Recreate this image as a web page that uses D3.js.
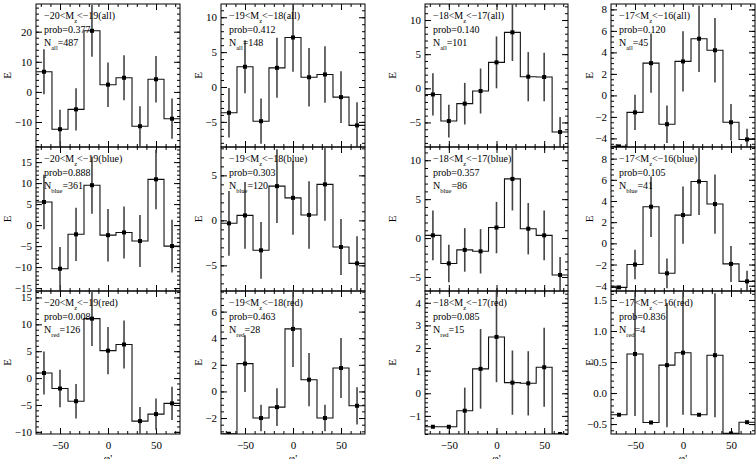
<!DOCTYPE html>
<html lang="en">
<head>
<meta charset="UTF-8">
<title>E vs phi'</title>
<script src="https://d3js.org/d3.v7.min.js"></script>
<style>
  body { margin: 0; background: #fff; }
  text { font-family: "Liberation Serif", "DejaVu Serif", serif; fill: #000; }
  .tick line { stroke: #000; stroke-width: 1; }
</style>
</head>
<body>
<svg width="756" height="459"></svg>
<script>
// bins in phi'
var binCenters = [-66.7, -50, -33.3, -16.7, 0, 16.7, 33.3, 50, 66.7];
var binHalf = 8.33;
var xDomain = [-75, 75];
var xTicks = [-50, 0, 50];

var magLow = [-20, -19, -18, -17];
var magHigh = [-19, -18, -17, -16];

// all galaxies
var allE = [
    [6.7, -12.4, -5.8, 20.3, 2.4, 4.7, -11.4, 4.2, -8.9],
    [-3.7, 2.9, -4.9, 2.75, 7.1, 1.4, 1.8, -1.45, -5.5],
    [-0.9, -4.8, -2.25, -0.4, 3.8, 8.2, 1.7, 1.65, -6.4],
    [-4.74, -1.58, 3.0, -2.68, 3.16, 5.27, 4.2, -2.5, -4.1]
];
var allErr = [
    [7.5, 6.5, 7.0, 8.6, 7.4, 7.5, 6.6, 7.7, 6.7],
    [3.55, 3.8, 3.25, 4.3, 4.9, 4.2, 4.05, 3.7, 3.3],
    [3.1, 2.4, 3.05, 3.3, 3.8, 4.2, 3.6, 3.55, 2.2],
    [0, 1.63, 2.76, 1.74, 2.8, 3.1, 3.0, 1.69, 1.0]
];
var allRange = [[-18.3, 29.2], [-8.6, 11.9], [-8.6, 12.35], [-4.8, 8.5]];
var allTicks = [[-10, 0, 10, 20], [-5, 0, 5, 10], [-5, 0, 5, 10], [-4, -2, 0, 2, 4, 6, 8]];
var allMinor = [2, 1, 1, 0.5];
var allProb = ["0.377", "0.412", "0.140", "0.120"];
var allN = [487, 148, 101, 45];

// blue galaxies
var blueE = [
    [5.5, -10.4, -2.2, 9.5, -2.4, -1.75, -3.8, 10.9, -5.0],
    [-0.33, 0.55, -3.33, 3.8, 2.5, 0.6, 4.0, -2.96, -4.78],
    [0.35, -3.26, -1.52, -1.7, 1.35, 7.6, 1.2, 0.35, -4.74],
    [-4.16, -2.0, 3.46, -2.83, 2.67, 5.84, 3.71, -1.94, -3.59]
];
var blueErr = [
    [6.5, 5.2, 6.35, 6.8, 6.25, 6.2, 6.2, 7.1, 6.3],
    [3.6, 3.7, 3.15, 4.1, 4.1, 3.75, 4.05, 3.1, 3.0],
    [3.2, 2.4, 2.8, 2.85, 3.3, 4.05, 3.3, 3.2, 2.3],
    [0, 1.4, 2.86, 1.4, 2.7, 3.17, 2.8, 1.7, 1.0]
];
var blueRange = [[-15.7, 18.6], [-7.85, 8.15], [-6.8, 11.7], [-4.5, 9.1]];
var blueTicks = [[-15, -10, -5, 0, 5, 10, 15], [-5, 0, 5], [-5, 0, 5, 10], [-4, -2, 0, 2, 4, 6, 8]];
var blueMinor = [1, 1, 1, 0.5];
var blueProb = ["0.888", "0.303", "0.357", "0.105"];
var blueN = [361, 120, 86, 41];

// red galaxies
var redE = [
    [0.94, -1.94, -4.3, 11.06, 5.1, 6.25, -8.0, -6.7, -4.7],
    [-3.18, 2.09, -2.0, -1.18, 4.7, 0.88, -2.0, 1.76, -1.08],
    [-1.48, -1.48, -0.77, 1.08, 2.49, 0.47, 0.44, 1.15, -1.8],
    [-0.35, 0.63, -0.475, 0.45, 0.65, -0.35, 0.61, -0.65, -0.47]
];
var redErr = [
    [4.0, 3.5, 3.2, 5.1, 4.4, 4.45, 2.6, 2.9, 3.1],
    [0, 2.14, 1.0, 1.42, 2.86, 2.0, 1.0, 2.25, 1.4],
    [0, 0, 1.02, 1.76, 2.0, 1.42, 1.42, 1.75, 0],
    [0, 1.0, 0, 1.0, 1.0, 0, 1.0, 0, 0]
];
var redRange = [[-10.4, 16.2], [-3.2, 7.55], [-1.8, 4.52], [-0.66, 1.645]];
var redTicks = [[-10, -5, 0, 5, 10, 15], [-2, 0, 2, 4, 6], [-1, 0, 1, 2, 3, 4], [-0.5, 0.0, 0.5, 1.0, 1.5]];
var redMinor = [1, 0.5, 0.2, 0.1];
var redProb = ["0.008", "0.463", "0.085", "0.836"];
var redN = [126, 28, 15, 4];

// layout
var colLeft = [36, 221, 425, 611],
    colWidth = [144, 144, 143, 144],
    rowTop = [4, 147, 291],
    rowHeight = [143, 144, 143],
    eLabelX = [7, 198, 392, 589];

var samples = [
    {name: "all", E: allE, err: allErr, dom: allRange, ticks: allTicks, minor: allMinor, prob: allProb, n: allN},
    {name: "blue", E: blueE, err: blueErr, dom: blueRange, ticks: blueTicks, minor: blueMinor, prob: blueProb, n: blueN},
    {name: "red", E: redE, err: redErr, dom: redRange, ticks: redTicks, minor: redMinor, prob: redProb, n: redN}
];

var svg = d3.select("svg");
svg.append("rect").attr("width", 756).attr("height", 459).attr("fill", "#fff");

samples.forEach(function(s, r) {
    magLow.forEach(function(lo, c) {
        var w = colWidth[c], h = rowHeight[r];
        var g = svg.append("g")
            .attr("transform", "translate(" + colLeft[c] + "," + rowTop[r] + ")");

        var x = d3.scaleLinear().domain(xDomain).range([0, w]);
        var y = d3.scaleLinear().domain(s.dom[c]).range([h, 0]);

        var clipId = "clip" + r + c;
        g.append("clipPath").attr("id", clipId)
            .append("rect").attr("width", w).attr("height", h);

        // minor ticks
        var dmin = s.dom[c][0], dmax = s.dom[c][1], st = s.minor[c];
        var yMinor = d3.range(Math.ceil(dmin / st) * st, dmax, st);
        var xMinor = d3.range(-70, 75, 10);
        var isDecimal = s.ticks[c].some(function(t) { return t % 1 !== 0; });

        g.append("g").call(d3.axisLeft(y).tickValues(yMinor).tickSize(-3).tickFormat(""));
        g.append("g").attr("transform", "translate(" + w + ",0)")
            .call(d3.axisRight(y).tickValues(yMinor).tickSize(-3).tickFormat(""));
        g.append("g").attr("transform", "translate(0," + h + ")")
            .call(d3.axisBottom(x).tickValues(xMinor).tickSize(-3).tickFormat(""));
        g.append("g")
            .call(d3.axisTop(x).tickValues(xMinor).tickSize(-3).tickFormat(""));

        // major ticks
        g.append("g").attr("class", "yaxis")
            .call(d3.axisLeft(y).tickValues(s.ticks[c]).tickSize(-6).tickPadding(4)
                .tickFormat(function(d) {
                    var t = isDecimal ? d3.format(".1f")(d) : String(d);
                    return t.replace("-", "\u2212");
                }));
        g.append("g").attr("transform", "translate(" + w + ",0)")
            .call(d3.axisRight(y).tickValues(s.ticks[c]).tickSize(-6).tickFormat(""));
        g.append("g").attr("class", "xaxis").attr("transform", "translate(0," + h + ")")
            .call(d3.axisBottom(x).tickValues(xTicks).tickSize(-6).tickPadding(7)
                .tickFormat(function(d) { return r === 2 ? String(d).replace("-", "\u2212") : ""; }));
        g.append("g")
            .call(d3.axisTop(x).tickValues(xTicks).tickSize(-6).tickFormat(""));

        g.selectAll(".domain").remove();
        g.selectAll(".tick text").attr("font-size", 11);

        // frame
        g.append("rect").attr("width", w).attr("height", h)
            .attr("fill", "none").attr("stroke", "#000").attr("stroke-width", 1);

        var plot = g.append("g").attr("clip-path", "url(#" + clipId + ")");

        // step histogram
        var pts = [];
        binCenters.forEach(function(b, i) {
            pts.push([b - binHalf, s.E[c][i]]);
            pts.push([b + binHalf, s.E[c][i]]);
        });
        plot.append("path")
            .attr("d", d3.line().x(function(d) { return x(d[0]); }).y(function(d) { return y(d[1]); })(pts))
            .attr("fill", "none").attr("stroke", "#111").attr("stroke-width", 1.1);

        // error bars
        plot.selectAll(".err")
            .data(binCenters.map(function(b, i) { return {b: b, v: s.E[c][i], e: s.err[c][i]}; })
                .filter(function(d) { return d.e > 0; }))
            .enter().append("line")
            .attr("x1", function(d) { return x(d.b); })
            .attr("x2", function(d) { return x(d.b); })
            .attr("y1", function(d) { return y(d.v - d.e); })
            .attr("y2", function(d) { return y(d.v + d.e); })
            .attr("stroke", "#444").attr("stroke-width", 1.6);

        // markers
        plot.selectAll(".pt")
            .data(binCenters.map(function(b, i) { return {b: b, v: s.E[c][i]}; }))
            .enter().append("rect")
            .attr("x", function(d) { return x(d.b) - 2; })
            .attr("y", function(d) { return y(d.v) - 2; })
            .attr("width", 4).attr("height", 4)
            .attr("fill", "#000");

        // annotation
        var t1 = g.append("text").attr("x", 8).attr("y", 15).attr("font-size", 10);
        t1.append("tspan").text("\u2212" + Math.abs(lo) + "<M");
        t1.append("tspan").attr("dy", 4).attr("font-size", 6.5).text("z");
        t1.append("tspan").attr("dy", -4).text("<\u2212" + Math.abs(magHigh[c]) + "(" + s.name + ")");

        g.append("text").attr("x", 8).attr("y", 29).attr("font-size", 10)
            .text("prob=" + s.prob[c]);

        var t3 = g.append("text").attr("x", 8).attr("y", 42).attr("font-size", 10);
        t3.append("tspan").text("N");
        t3.append("tspan").attr("dy", 4).attr("font-size", 6.5).text(s.name);
        t3.append("tspan").attr("dy", -4).text("=" + s.n[c]);

        // y title
        svg.append("text")
            .attr("transform", "translate(" + eLabelX[c] + "," + (rowTop[r] + h / 2) + ") rotate(-90)")
            .attr("text-anchor", "middle").attr("dy", "0.35em")
            .attr("font-size", 11).text("E");

        // x title
        if (r === 2) {
            svg.append("text")
                .attr("x", colLeft[c] + w / 2).attr("y", 462)
                .attr("text-anchor", "middle").attr("font-size", 11)
                .text("\u03c6'");
        }
    });
});

svg.selectAll("text").style("font-family", "'Liberation Serif', serif");
</script>
</body>
</html>
